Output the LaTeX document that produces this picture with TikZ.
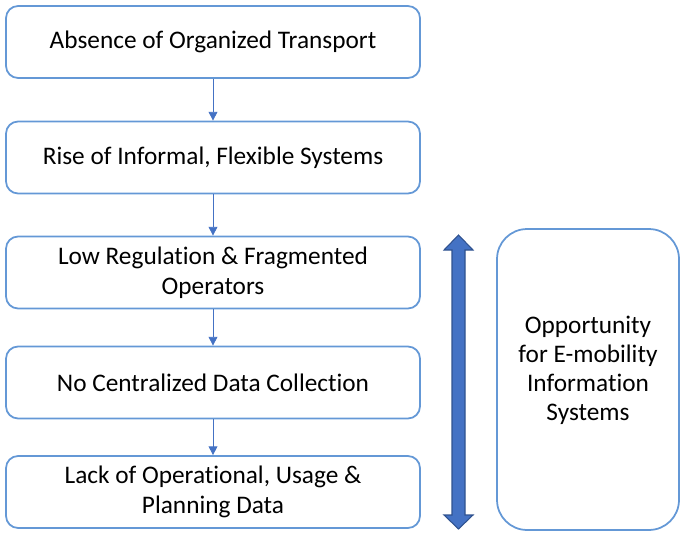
\documentclass[tikz,border=0pt]{standalone}
\usepackage{fontspec}
\setmainfont[Ligatures=NoCommon]{Carlito}
\usetikzlibrary{positioning,arrows.meta}

\definecolor{boxline}{RGB}{100,152,214}
\definecolor{linkblue}{RGB}{68,114,196}
\definecolor{arrowfill}{RGB}{68,114,196}
\definecolor{arrowline}{RGB}{47,82,143}

\tikzset{
  stepbox/.style={draw=boxline, line width=1pt, rounded corners=0.24cm,
    minimum width=8.28cm, minimum height=1.44cm, align=center,
    font=\fontsize{14.4}{17}\selectfont},
  link/.style={draw=linkblue, line width=0.5pt, -{Triangle[length=5pt,width=5pt]}}
}

\begin{document}
\begin{tikzpicture}[x=0.02cm, y=-0.02cm]
  \useasboundingbox (0,0) rectangle (685,537);

  % left column
  \node[stepbox] (S1) at (213,42) {Absence of Organized Transport};
  \node[stepbox] (S2) at (213,157.5) {Rise of Informal, Flexible Systems};
  \node[stepbox] (S3) at (213,272.5) {Low Regulation \& Fragmented\\Operators};
  \node[stepbox] (S4) at (213,382.5) {No Centralized Data Collection};
  \node[stepbox] (S5) at (213,492) {Lack of Operational, Usage \&\\Planning Data};

  \draw[link] (S1) -- (S2);
  \draw[link] (S2) -- (S3);
  \draw[link] (S3) -- (S4);
  \draw[link] (S4) -- (S5);

  % two-way arrow
  \coordinate (Top) at (458.5,235);
  \coordinate (Bot) at (458.5,529);
  \filldraw[fill=arrowfill, draw=arrowline, line width=0.6pt]
    (Top) -- (473,250) -- (465,250) -- (465,515) -- (473,515) -- (Bot)
    -- (444,515) -- (452,515) -- (452,250) -- (444,250) -- cycle;

  % right box
  \node[draw=boxline, line width=1pt, rounded corners=0.6cm,
    minimum width=3.64cm, minimum height=6.02cm] (Opp) at (588,379.5) {};
  \node[align=center, font=\fontsize{14.4}{16.5}\selectfont]
    (OppText) at (588,370) {Opportunity\\for E-mobility\\Information\\Systems};
\end{tikzpicture}
\end{document}
